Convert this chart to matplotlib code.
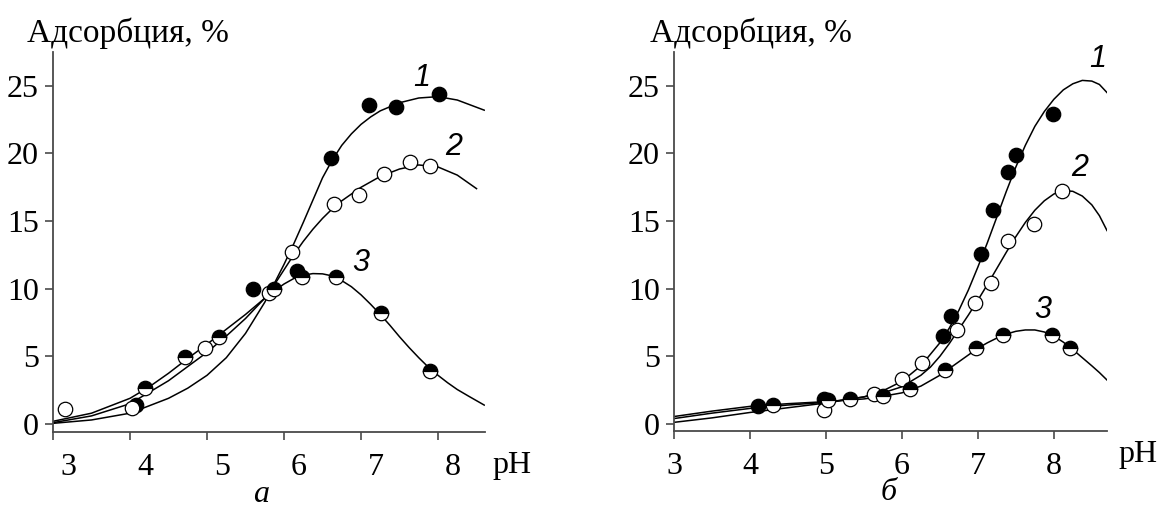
import matplotlib.pyplot as plt
from matplotlib.transforms import ScaledTranslation

plt.rcParams['font.family'] = ['Liberation Serif', 'DejaVu Serif']

# ---- panel a: measured points ----
a_ph1 = [4.08, 5.60, 6.17, 6.61, 7.10, 7.45, 8.01]
a_ads1 = [1.4, 10.0, 11.3, 19.7, 23.6, 23.4, 24.4]
a_ph2 = [3.16, 4.02, 4.98, 5.80, 6.10, 6.65, 6.97, 7.30, 7.64, 7.90]
a_ads2 = [1.1, 1.15, 5.6, 9.7, 12.7, 16.25, 16.9, 18.5, 19.4, 19.1]
a_ph3 = [4.20, 4.71, 5.15, 5.87, 6.23, 6.67, 7.26, 7.90]
a_ads3 = [2.65, 4.95, 6.45, 9.95, 10.9, 10.9, 8.2, 3.9]

# ---- panel a: fitted curves ----
a_fit_ph1 = [3.0, 3.5, 4.0, 4.5, 4.75, 5.0, 5.25, 5.5, 5.75, 6.0, 6.125, 6.25,
             6.375, 6.5, 6.625, 6.75, 6.875, 7.0, 7.125, 7.25, 7.5, 7.75, 8.0,
             8.25, 8.6]
a_fit1 = [0.05, 0.3, 0.8, 1.9, 2.65, 3.6, 4.9, 6.7, 9.0, 11.8, 13.3, 14.9,
          16.55, 18.2, 19.5, 20.6, 21.45, 22.15, 22.7, 23.15, 23.75, 24.1, 24.2,
          23.95, 23.2]
a_fit_ph2 = [3.0, 3.5, 4.0, 4.5, 5.0, 5.25, 5.5, 5.75, 5.875, 6.0, 6.125, 6.25,
             6.375, 6.5, 6.625, 6.75, 6.875, 7.0, 7.25, 7.5, 7.75, 8.0, 8.25, 8.5]
a_fit2 = [0.1, 0.6, 1.5, 3.2, 5.3, 6.5, 7.8, 9.3, 10.3, 11.4, 12.5, 13.5,
          14.4, 15.2, 15.9, 16.5, 17.0, 17.5, 18.3, 18.85, 19.15, 19.0, 18.4, 17.4]
a_fit_ph3 = [3.0, 3.5, 4.0, 4.25, 4.5, 4.75, 5.0, 5.25, 5.5, 5.75, 5.875, 6.0,
             6.125, 6.25, 6.375, 6.5, 6.625, 6.75, 6.875, 7.0, 7.125, 7.25,
             7.375, 7.5, 7.625, 7.75, 7.875, 8.0, 8.125, 8.25, 8.4, 8.6]
a_fit3 = [0.2, 0.8, 1.9, 2.75, 3.75, 4.85, 5.9, 7.0, 8.1, 9.3, 9.85, 10.35,
          10.75, 11.0, 11.12, 11.1, 10.95, 10.6, 10.15, 9.55, 8.85, 8.1,
          7.3, 6.45, 5.65, 4.9, 4.2, 3.6, 3.05, 2.55, 2.05, 1.4]

# ---- panel b: measured points ----
b_ph1 = [4.10, 4.97, 6.54, 6.64, 7.04, 7.20, 7.40, 7.50, 7.99]
b_ads1 = [1.33, 1.85, 6.5, 8.0, 12.6, 15.8, 18.6, 19.85, 22.9]
b_ph2 = [4.97, 5.63, 6.00, 6.26, 6.72, 6.96, 7.17, 7.40, 7.74, 8.11]
b_ads2 = [1.0, 2.2, 3.33, 4.5, 6.96, 8.94, 10.4, 13.5, 14.8, 17.26]
b_ph3 = [4.30, 5.03, 5.32, 5.75, 6.11, 6.57, 6.98, 7.33, 7.97, 8.21]
b_ads3 = [1.4, 1.8, 1.83, 2.05, 2.57, 4.0, 5.6, 6.55, 6.55, 5.6]

# ---- panel b: fitted curves ----
b_fit_ph1 = [3.0, 3.5, 4.0, 4.5, 5.0, 5.5, 5.75, 6.0, 6.25, 6.5, 6.625, 6.75,
             6.875, 7.0, 7.125, 7.25, 7.375, 7.5, 7.625, 7.75, 7.875, 8.0,
             8.125, 8.25, 8.375, 8.5, 8.6, 8.7]
b_fit1 = [0.12, 0.45, 0.85, 1.2, 1.55, 2.0, 2.45, 3.15, 4.3, 6.0, 7.1, 8.4,
          9.9, 11.6, 13.4, 15.3, 17.2, 19.0, 20.6, 22.0, 23.1, 24.0,
          24.7, 25.15, 25.4, 25.35, 25.1, 24.5]
b_fit_ph2 = [3.0, 3.5, 4.0, 4.5, 5.0, 5.5, 5.75, 6.0, 6.25, 6.375, 6.5, 6.625,
             6.75, 6.875, 7.0, 7.125, 7.25, 7.375, 7.5, 7.625, 7.75, 7.875,
             8.0, 8.125, 8.25, 8.375, 8.5, 8.6, 8.7]
b_fit2 = [0.4, 0.8, 1.15, 1.4, 1.6, 2.0, 2.3, 2.75, 3.6, 4.2, 5.0, 5.95,
          7.0, 8.05, 9.15, 10.3, 11.5, 12.7, 13.85, 14.9, 15.8, 16.5,
          17.0, 17.25, 17.2, 16.85, 16.2, 15.4, 14.3]
b_fit_ph3 = [3.0, 3.5, 4.0, 4.5, 5.0, 5.5, 5.75, 6.0, 6.25, 6.5, 6.625, 6.75,
             6.875, 7.0, 7.125, 7.25, 7.375, 7.5, 7.625, 7.75, 7.875, 8.0,
             8.125, 8.25, 8.375, 8.5, 8.6, 8.7]
b_fit3 = [0.55, 0.95, 1.3, 1.5, 1.65, 1.85, 2.05, 2.3, 2.8, 3.6, 4.1, 4.6,
          5.1, 5.6, 6.0, 6.35, 6.65, 6.85, 6.95, 6.95, 6.8, 6.5,
          6.05, 5.5, 4.9, 4.3, 3.8, 3.25]

yticks = [0, 5, 10, 15, 20, 25]
xticks = [3, 4, 5, 6, 7, 8]

W, H = 1158, 509
fig = plt.figure(figsize=(W / 100, H / 100), dpi=100)

mk = dict(linestyle='none', marker='o', markersize=10.4,
          markeredgecolor='black', markeredgewidth=0.9, zorder=3)


def panel(rect, xlim, ylim, fits, pts, labels, xlab_shift):
    ax = fig.add_axes(rect)
    for xs, ys in fits:
        ax.plot(xs, ys, color='black', lw=1.1, zorder=2)
    (x1, y1), (x2, y2), (x3, y3) = pts
    ax.plot(x1, y1, markerfacecolor='black', **mk)
    ax.plot(x2, y2, markerfacecolor='white', **mk)
    ax.plot(x3, y3, fillstyle='top', markerfacecolor='black',
            markerfacecoloralt='white', **mk)
    for txt, (lx, ly) in labels:
        ax.text(lx, ly, txt, family='Liberation Sans', style='italic',
                fontsize=22, ha='center', va='center', clip_on=False)
    ax.set_xlim(*xlim)
    ax.set_ylim(*ylim)
    ax.set_xticks(xticks)
    ax.set_yticks(yticks)
    for s in ('top', 'right'):
        ax.spines[s].set_visible(False)
    for s in ('left', 'bottom'):
        ax.spines[s].set_color('#4a4a4a')
        ax.spines[s].set_linewidth(1.3)
    ax.tick_params(direction='out', length=6, width=1.2, color='#4a4a4a',
                   labelsize=23)
    ax.tick_params(axis='x', pad=9)
    ax.tick_params(axis='y', pad=4)
    off = ScaledTranslation(xlab_shift / 100, 0, fig.dpi_scale_trans)
    for lab in ax.get_xticklabels():
        lab.set_transform(lab.get_transform() + off)
    return ax


panel([53 / W, 77 / H, 432 / W, 380 / H], (3.0, 8.61), (-0.59, 27.5),
      [(a_fit_ph1, a_fit1), (a_fit_ph2, a_fit2), (a_fit_ph3, a_fit3)],
      [(a_ph1, a_ads1), (a_ph2, a_ads2), (a_ph3, a_ads3)],
      [('1', (7.79, 25.6)), ('2', (8.2, 20.5)), ('3', (7.0, 11.9))], 15)

panel([674 / W, 78 / H, 433 / W, 379 / H], (3.0, 8.70), (-0.52, 27.5),
      [(b_fit_ph1, b_fit1), (b_fit_ph2, b_fit2), (b_fit_ph3, b_fit3)],
      [(b_ph1, b_ads1), (b_ph2, b_ads2), (b_ph3, b_ads3)],
      [('1', (8.58, 27.0)), ('2', (8.34, 18.9)), ('3', (7.85, 8.4))], 0)

fig.text(27 / W, 1 - 42 / H, 'Адсорбция, %', fontsize=24, va='baseline')
fig.text(650 / W, 1 - 42 / H, 'Адсорбция, %', fontsize=24, va='baseline')
fig.text(492 / W, 1 - 473 / H, 'pH', fontsize=23, va='baseline')
fig.text(1118 / W, 1 - 462 / H, 'pH', fontsize=23, va='baseline')
fig.text(261 / W, 1 - 494 / H, 'а', fontsize=23, style='italic',
         ha='center', va='center')
fig.text(889 / W, 1 - 492 / H, 'б', fontsize=23, style='italic',
         ha='center', va='center')

fig.savefig('out.png', dpi=100)
